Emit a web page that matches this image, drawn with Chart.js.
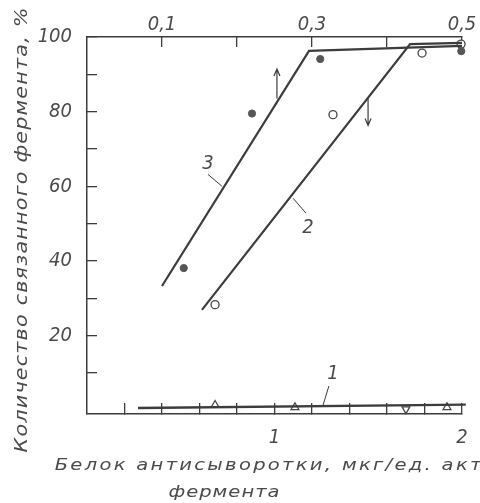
<!DOCTYPE html>
<html>
<head>
<meta charset="utf-8">
<script src="https://cdn.jsdelivr.net/npm/chart.js@4.4.1/dist/chart.umd.min.js"></script>
<style>
  body { margin: 0; background: #fff; }
  #box { width: 480px; height: 503px; }
</style>
</head>
<body>
<div id="box"><canvas id="grafico"></canvas></div>
<script>
// curva 3 -> eje superior (flecha hacia arriba)
const lineaX3 = [0.100, 0.296, 0.5];
const lineaY3 = [33.3, 96.3, 97.6];
const puntosX3 = [0.129, 0.220, 0.311, 0.499];
const puntosY3 = [38.1, 79.5, 94.1, 96.2];

// curva 2 -> eje inferior (flecha hacia abajo)
const lineaX2 = [0.613, 1.723, 2.0];
const lineaY2 = [26.9, 98.1, 98.4];
const puntosX2 = [0.683, 1.312, 1.787, 1.995];
const puntosY2 = [28.3, 79.2, 95.7, 98.1];

// curva 1, casi cero
const lineaX1 = [0.272, 2.02];
const lineaY1 = [0.6, 1.5];
const puntosX1 = [0.683, 1.109, 1.701, 1.92];
const puntosY1 = [1.4, 0.8, 0.3, 0.8];
const rotacion1 = [0, 0, 180, 0];

// ticks y etiquetas
const ticksY = [10, 20, 30, 40, 50, 60, 70, 80, 90, 100];
const etiquetasY = ['', '20', '', '40', '', '60', '', '80', '', '100'];
const ticksX = [0.2, 0.4, 0.6, 0.8, 1.0, 1.2, 1.4, 1.6, 1.8, 2.0];
const etiquetasX = ['', '', '', '', '1', '', '', '', '', '2'];
const ticksX2 = [0.1, 0.2, 0.3, 0.4, 0.5];
const etiquetasX2 = ['0,1', '', '0,3', '', '0,5'];

const tituloY = 'Количество связанного фермента, %';
const tituloX = ['Белок антисыворотки, мкг/ед. акт', 'фермента'];

// etiquetas de las curvas (en unidades del eje inferior)
const rotulos = [
  { texto: '3', x: 0.645, y: 66.1, guia: [0.645, 63.2, 0.72, 60.0] },
  { texto: '2', x: 1.179, y: 48.8, guia: [1.099, 56.8, 1.168, 52.8] },
  { texto: '1', x: 1.312, y: 9.9, guia: [1.290, 6.5, 1.259, 1.4] }
];
// flechas: x, y inicio, y fin
const flechas = [
  { x: 1.013, y0: 83.5, y1: 91.4 },
  { x: 1.499, y0: 83.5, y1: 76.3 }
];

const colorTinta = '#3c3c3c';
const colorTexto = '#4a4a4a';
const fuenteNum = "'DejaVu Sans Condensed', 'Liberation Sans Narrow', 'DejaVu Sans', sans-serif";

function aPuntos(xs, ys) {
  return xs.map((x, i) => ({ x: x, y: ys[i] }));
}

// texto ensanchado (la letra del libro es ancha) y espaciado hasta el ancho de la figura
function textoEspaciado(ctx, texto, x, y, ancho) {
  const k = 1.22;
  ctx.save();
  ctx.translate(x, y);
  ctx.scale(k, 1);
  ctx.letterSpacing = '0px';
  const w = ctx.measureText(texto).width;
  const sp = (ancho / k - w) / texto.length;
  ctx.letterSpacing = sp + 'px';
  ctx.fillText(texto, sp / 2, 0);
  ctx.restore();
}

const dibujoExtra = {
  id: 'dibujoExtra',
  afterDraw(chart) {
    const ctx = chart.ctx;
    const sx = chart.scales.x;
    const sy = chart.scales.y;
    ctx.save();
    ctx.fillStyle = colorTexto;
    ctx.textAlign = 'center';
    ctx.textBaseline = 'alphabetic';

    // titulo eje x (dos lineas)
    ctx.font = "italic 16px 'DejaVu Sans'";
    textoEspaciado(ctx, tituloX[0], 268, 470, 429);
    textoEspaciado(ctx, tituloX[1], 224, 497, 112);

    // titulo eje y
    ctx.save();
    ctx.translate(27, 230);
    ctx.rotate(-Math.PI / 2);
    ctx.font = "italic 17px 'DejaVu Sans'";
    textoEspaciado(ctx, tituloY, 0, 0, 446);
    ctx.restore();

    // rotulos de curvas
    ctx.strokeStyle = colorTinta;
    ctx.lineWidth = 1;
    ctx.textBaseline = 'middle';
    ctx.font = 'italic 20px ' + fuenteNum;
    rotulos.forEach(r => {
      ctx.fillText(r.texto, sx.getPixelForValue(r.x), sy.getPixelForValue(r.y));
      ctx.beginPath();
      ctx.moveTo(sx.getPixelForValue(r.guia[0]), sy.getPixelForValue(r.guia[1]));
      ctx.lineTo(sx.getPixelForValue(r.guia[2]), sy.getPixelForValue(r.guia[3]));
      ctx.stroke();
    });

    // flechas
    ctx.lineWidth = 1.2;
    flechas.forEach(f => {
      const px = sx.getPixelForValue(f.x);
      const p0 = sy.getPixelForValue(f.y0);
      const p1 = sy.getPixelForValue(f.y1);
      const dir = p1 < p0 ? 1 : -1;
      ctx.beginPath();
      ctx.moveTo(px, p0);
      ctx.lineTo(px, p1);
      ctx.moveTo(px - 3, p1 + dir * 7);
      ctx.lineTo(px, p1);
      ctx.lineTo(px + 3, p1 + dir * 7);
      ctx.stroke();
    });
    ctx.restore();
  }
};

function ejeComun(ticks, etiquetas, largo, pad) {
  return {
    type: 'linear',
    afterBuildTicks: s => { s.ticks = ticks.map(v => ({ value: v })); },
    ticks: {
      autoSkip: false,
      maxRotation: 0,
      padding: pad,
      color: colorTexto,
      font: { family: fuenteNum, size: 20, style: 'italic' },
      callback: (v, i) => etiquetas[i]
    },
    grid: { drawOnChartArea: false, tickLength: largo, color: colorTinta, lineWidth: 1.3 },
    border: { color: colorTinta, width: 1.5 }
  };
}

const escalaX = ejeComun(ticksX, etiquetasX, -11, 22.5);
escalaX.position = 'bottom';
escalaX.min = 0;
escalaX.max = 2;
escalaX.afterFit = s => { s.height = 89; s.paddingLeft = 0; s.paddingRight = 0; };

const escalaX2 = ejeComun(ticksX2, etiquetasX2, -10, 10);
escalaX2.position = 'top';
escalaX2.min = 0;
escalaX2.max = 0.5;
escalaX2.afterFit = s => { s.height = 35; s.paddingLeft = 0; s.paddingRight = 0; };

const escalaY = ejeComun(ticksY, etiquetasY, -10, 25);
escalaY.position = 'left';
escalaY.min = -1;
escalaY.max = 100;
escalaY.afterFit = s => { s.width = 87; };

const ctx = document.getElementById('grafico').getContext('2d');
const myChart = new Chart(ctx, {
  type: 'scatter',
  data: {
    datasets: [{
      label: '3',
      xAxisID: 'x2',
      data: aPuntos(lineaX3, lineaY3),
      showLine: true,
      borderColor: colorTinta,
      borderWidth: 2.2,
      pointRadius: 0,
      clip: false
    }, {
      label: '2',
      data: aPuntos(lineaX2, lineaY2),
      showLine: true,
      borderColor: colorTinta,
      borderWidth: 2.2,
      pointRadius: 0,
      clip: false
    }, {
      label: '1',
      data: aPuntos(lineaX1, lineaY1),
      showLine: true,
      borderColor: colorTinta,
      borderWidth: 2.4,
      pointRadius: 0,
      clip: false
    }, {
      label: '3 puntos',
      xAxisID: 'x2',
      data: aPuntos(puntosX3, puntosY3),
      pointStyle: 'circle',
      pointRadius: 3.6,
      backgroundColor: '#555',
      borderColor: '#555',
      borderWidth: 1,
      clip: false
    }, {
      label: '2 puntos',
      data: aPuntos(puntosX2, puntosY2),
      pointStyle: 'circle',
      pointRadius: 4,
      backgroundColor: '#fff',
      borderColor: '#444',
      borderWidth: 1.3,
      clip: false
    }, {
      label: '1 puntos',
      data: aPuntos(puntosX1, puntosY1),
      pointStyle: 'triangle',
      pointRadius: 4.5,
      pointRotation: rotacion1,
      backgroundColor: '#fff',
      borderColor: '#444',
      borderWidth: 1.3,
      clip: false
    }]
  },
  options: {
    responsive: true,
    maintainAspectRatio: false,
    animation: false,
    layout: { padding: { left: 0, right: 18, top: 0, bottom: 0 } },
    plugins: { legend: { display: false }, tooltip: { enabled: false } },
    scales: { x: escalaX, x2: escalaX2, y: escalaY }
  },
  plugins: [dibujoExtra]
});
</script>
</body>
</html>
